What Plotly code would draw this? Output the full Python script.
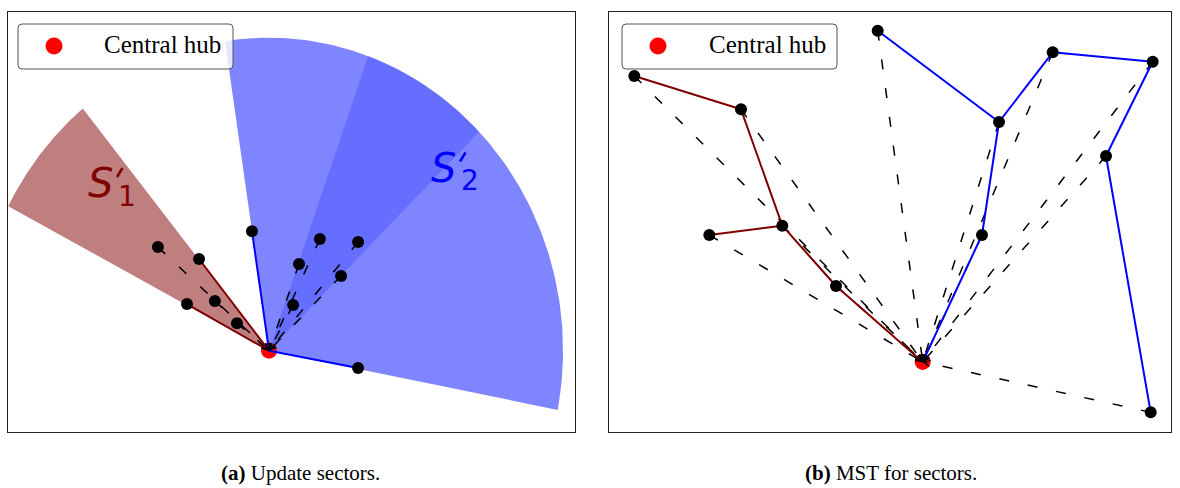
import numpy as np
import plotly.graph_objects as go

W, H = 1180, 488

# ---------------- panel (a): Update sectors (hub-relative units, sector radius = 1)
HUB_A = (0.0, 0.0)
S1_X = [-0.378, -0.238, -0.279, -0.184, -0.109]
S1_Y = [0.331, 0.293, 0.149, 0.159, 0.088]
S1_TREE = [1, 2]            # nodes joined to the hub by a solid edge
S2_X = [-0.058, 0.173, 0.303, 0.102, 0.245, 0.082, 0.303]
S2_Y = [0.382, 0.357, 0.347, 0.277, 0.239, 0.146, -0.055]
S2_TREE = [0, 6]
SECTOR_R = 1.0
S1_ANGLES = [129.3, 152.5]
S2_ANGLES = [-10.9, 98.6]
S2_OVERLAP = [44.4, 70.3]

# ---------------- panel (b): MST for sectors
HUB_B = (6.274, 1.402)
R_NODES_X = [0.506, 2.64, 3.466, 2.006, 4.54]
R_NODES_Y = [7.12, 6.454, 4.126, 3.94, 2.92]
R_EDGES = [(0, 1), (1, 2), (2, 3), (2, 4), (4, "hub")]
B_NODES_X = [5.374, 7.8, 8.874, 10.874, 9.94, 7.46, 10.834]
B_NODES_Y = [8.026, 6.2, 7.594, 7.406, 5.52, 3.94, 0.394]
B_EDGES = [(0, 1), (1, 2), (2, 3), (3, 4), (4, 6), (1, 5), (5, "hub")]

CAPTIONS = ["<b>(a)</b> Update sectors.", "<b>(b)</b> MST for sectors."]
SECTOR_NAME = "S"
SECTOR_SUBS = ["1", "2"]
LEGEND_LABEL = "Central hub"

# axis geometry (pixels)
A_DOM = (8, 575)
B_DOM = (609, 1171)
Y_DOM = (12, 432)
A_XR = [-0.8878, 1.0408]
A_YR = [-0.2597, 1.0821]
B_XR = [0, 11.24]
B_YR = [0, 8.4]

RED = "#800000"
BLUE = "#0000ff"
DASH = "10px,19px"

fig = go.Figure()


def sector(angles, r=SECTOR_R, n=120):
    t = np.radians(np.linspace(angles[0], angles[1], n))
    xs = np.concatenate([[HUB_A[0]], HUB_A[0] + r * np.cos(t), [HUB_A[0]]])
    ys = np.concatenate([[HUB_A[1]], HUB_A[1] + r * np.sin(t), [HUB_A[1]]])
    return xs, ys


def seg_lines(pairs):
    xs, ys = [], []
    for (x0, y0), (x1, y1) in pairs:
        xs += [x0, x1, None]
        ys += [y0, y1, None]
    return xs, ys


def add_line(pairs, color, width, dash, xa, ya):
    xs, ys = seg_lines(pairs)
    fig.add_trace(go.Scatter(x=xs, y=ys, mode="lines", xaxis=xa, yaxis=ya,
                             line=dict(color=color, width=width, dash=dash),
                             hoverinfo="skip", showlegend=False))


# ---- sectors
for ang, col in [(S1_ANGLES, "rgba(128,0,0,0.5)"), (S2_ANGLES, "rgba(0,12,255,0.5)"),
                 (S2_OVERLAP, "rgba(0,20,255,0.2)")]:
    xs, ys = sector(ang)
    fig.add_trace(go.Scatter(x=xs, y=ys, mode="lines", fill="toself", fillcolor=col,
                             line=dict(width=0), xaxis="x", yaxis="y",
                             hoverinfo="skip", showlegend=False))

# ---- hub markers (under the lines)
for hub, xa, ya in [(HUB_A, "x", "y"), (HUB_B, "x2", "y2")]:
    fig.add_trace(go.Scatter(x=[hub[0]], y=[hub[1]], mode="markers", xaxis=xa, yaxis=ya,
                             marker=dict(color="red", size=16), hoverinfo="skip",
                             showlegend=False))

# ---- panel (a) lines
dashed_a = [(S1_X[i], S1_Y[i]) for i in range(len(S1_X)) if i not in S1_TREE] + \
           [(S2_X[i], S2_Y[i]) for i in range(len(S2_X)) if i not in S2_TREE]
add_line([(p, HUB_A) for p in dashed_a], "black", 1.5, DASH, "x", "y")
add_line([((S1_X[i], S1_Y[i]), HUB_A) for i in S1_TREE], RED, 2, "solid", "x", "y")
add_line([((S2_X[i], S2_Y[i]), HUB_A) for i in S2_TREE], BLUE, 2, "solid", "x", "y")

# ---- panel (b) lines
dashed_b = list(zip(R_NODES_X, R_NODES_Y)) + list(zip(B_NODES_X, B_NODES_Y))
add_line([(p, HUB_B) for p in dashed_b], "black", 1.5, DASH, "x2", "y2")


def node(xs, ys, k):
    return HUB_B if k == "hub" else (xs[k], ys[k])


add_line([(node(R_NODES_X, R_NODES_Y, a), node(R_NODES_X, R_NODES_Y, b)) for a, b in R_EDGES],
         RED, 2, "solid", "x2", "y2")
add_line([(node(B_NODES_X, B_NODES_Y, a), node(B_NODES_X, B_NODES_Y, b)) for a, b in B_EDGES],
         BLUE, 2, "solid", "x2", "y2")

# ---- black nodes
fig.add_trace(go.Scatter(x=S1_X + S2_X, y=S1_Y + S2_Y, mode="markers", xaxis="x", yaxis="y",
                         marker=dict(color="black", size=12), hoverinfo="skip", showlegend=False))
fig.add_trace(go.Scatter(x=R_NODES_X + B_NODES_X, y=R_NODES_Y + B_NODES_Y, mode="markers",
                         xaxis="x2", yaxis="y2", marker=dict(color="black", size=12),
                         hoverinfo="skip", showlegend=False))

annotations = []
shapes = []


# ---- arrow heads at the hub
def add_heads(points, hub, xr, yr, dom, xref, yref, tail=6):
    sx = (dom[1] - dom[0]) / (xr[1] - xr[0])
    sy = (Y_DOM[1] - Y_DOM[0]) / (yr[1] - yr[0])
    for (x, y) in points:
        dx, dy = (x - hub[0]) * sx, (y - hub[1]) * sy
        L = np.hypot(dx, dy)
        annotations.append(dict(x=hub[0], y=hub[1], xref=xref, yref=yref,
                                ax=dx / L * tail, ay=-dy / L * tail, axref="pixel", ayref="pixel",
                                showarrow=True, arrowhead=5, arrowsize=1.0, arrowwidth=1.2,
                                arrowcolor="black", text=""))


add_heads(dashed_a, HUB_A, A_XR, A_YR, A_DOM, "x", "y")
add_heads(dashed_b, HUB_B, B_XR, B_YR, B_DOM, "x2", "y2")


def PX(x):
    return x / W


def PY(y):
    return 1 - y / H


# ---- sector labels  S'_1 and S'_2 (prime drawn as a short stroke)
for (sx, sy), sub, col in [((115, 183), SECTOR_SUBS[0], RED),
                           ((458, 167.5), SECTOR_SUBS[1], BLUE)]:
    annotations.append(dict(x=PX(sx), y=PY(sy), xref="paper", yref="paper", showarrow=False,
                            text=SECTOR_NAME,
                            font=dict(family="DejaVu Sans", size=40, color=col, style="italic"),
                            xanchor="right", yanchor="middle"))
    annotations.append(dict(x=PX(sx + 0.5), y=PY(sy + 13), xref="paper", yref="paper",
                            showarrow=False, text=sub,
                            font=dict(family="DejaVu Sans", size=28, color=col),
                            xanchor="left", yanchor="middle"))
    shapes.append(dict(type="line", xref="paper", yref="paper",
                       x0=PX(sx + 2), y0=PY(sy - 6), x1=PX(sx + 7.5), y1=PY(sy - 15),
                       line=dict(color=col, width=2.5), layer="above"))

# ---- legends (custom boxes)
for x0 in (18, 622):
    x1, y0, y1, r = x0 + 215, 24, 69, 4
    rx, ry = r / W, r / H
    X0, X1, Y0, Y1 = PX(x0), PX(x1), PY(y1), PY(y0)
    path = (f"M{X0+rx},{Y0} L{X1-rx},{Y0} Q{X1},{Y0} {X1},{Y0+ry} L{X1},{Y1-ry} "
            f"Q{X1},{Y1} {X1-rx},{Y1} L{X0+rx},{Y1} Q{X0},{Y1} {X0},{Y1-ry} "
            f"L{X0},{Y0+ry} Q{X0},{Y0} {X0+rx},{Y0} Z")
    shapes.append(dict(type="path", path=path, xref="paper", yref="paper",
                       fillcolor="rgba(255,255,255,0.8)", line=dict(color="#555555", width=1),
                       layer="above"))
    cx, cy, rr = x0 + 36, 46, 8.5
    shapes.append(dict(type="circle", xref="paper", yref="paper",
                       x0=PX(cx - rr), x1=PX(cx + rr), y0=PY(cy + rr), y1=PY(cy - rr),
                       fillcolor="red", line=dict(width=0), layer="above"))
    annotations.append(dict(x=PX(x0 + 145), y=PY(45), xref="paper", yref="paper",
                            showarrow=False, text=LEGEND_LABEL,
                            font=dict(family="Liberation Serif", size=25, color="black"),
                            xanchor="center", yanchor="middle"))

# ---- captions
for cx, txt in [(300, CAPTIONS[0]), (891, CAPTIONS[1])]:
    annotations.append(dict(x=PX(cx), y=PY(473), xref="paper", yref="paper", showarrow=False,
                            text=txt, font=dict(family="Liberation Serif", size=21, color="black"),
                            xanchor="center", yanchor="middle"))

ax_common = dict(showgrid=False, zeroline=False, showticklabels=False, ticks="",
                 showline=True, mirror=True, linecolor="#222222", linewidth=1, fixedrange=True)
ydom = [1 - Y_DOM[1] / H, 1 - Y_DOM[0] / H]
fig.update_layout(
    width=W, height=H, margin=dict(l=0, r=0, t=0, b=0),
    paper_bgcolor="white", plot_bgcolor="white", showlegend=False,
    xaxis=dict(domain=[A_DOM[0] / W, A_DOM[1] / W], range=A_XR, **ax_common),
    yaxis=dict(domain=ydom, range=A_YR, **ax_common),
    xaxis2=dict(domain=[B_DOM[0] / W, B_DOM[1] / W], range=B_XR, anchor="y2", **ax_common),
    yaxis2=dict(domain=ydom, range=B_YR, anchor="x2", **ax_common),
    annotations=annotations, shapes=shapes,
)

fig.write_html("out.html", config={"displayModeBar": False},
               post_script="document.body.style.margin='0';document.body.style.overflow='hidden';")
